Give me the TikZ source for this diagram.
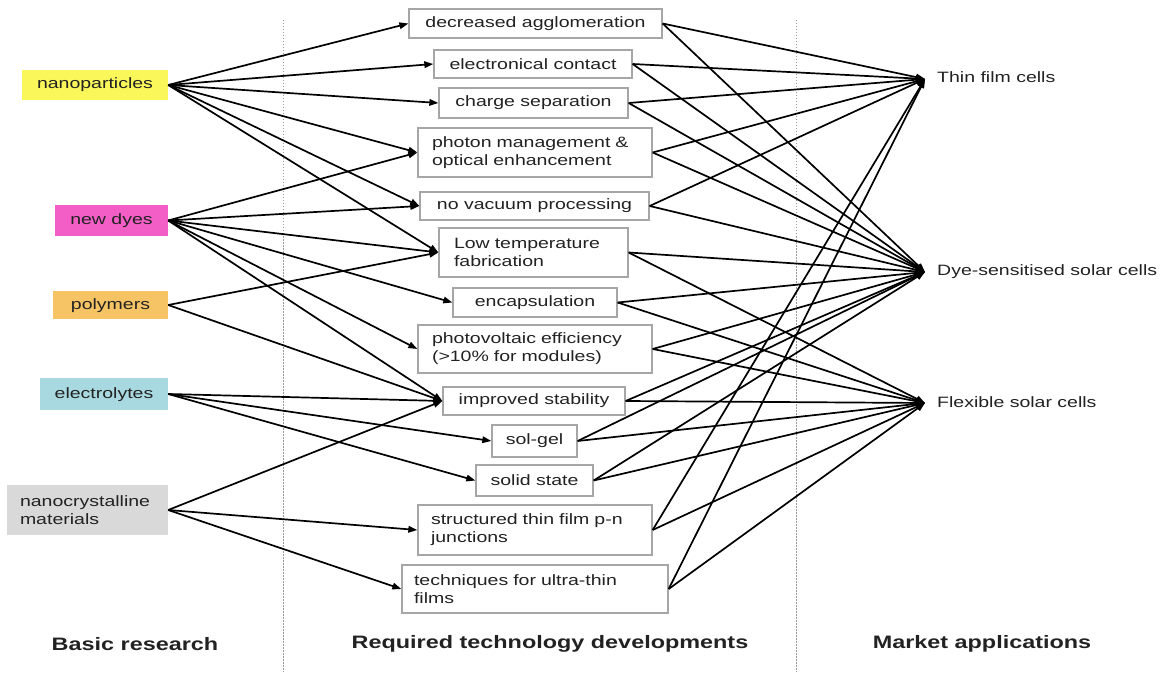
\documentclass[tikz,border=0pt]{standalone}
\usepackage{fontspec}
\setmainfont{Liberation Sans}[FakeStretch=1.3]
\usetikzlibrary{arrows.meta}
\definecolor{npyellow}{HTML}{F9F75A}
\definecolor{dyepink}{HTML}{F25EC6}
\definecolor{polyorange}{HTML}{F7C465}
\definecolor{elecblue}{HTML}{A9D9E0}
\definecolor{crystgrey}{HTML}{D9D9D9}
\definecolor{inktext}{HTML}{222222}
\begin{document}
\begin{tikzpicture}[x=1pt, y=-1pt,
  font=\fontsize{15}{18}\selectfont,
  lbox/.style={inner sep=0pt, text=inktext, text height=11pt, text depth=3pt},
  mbox/.style={draw=black!35, line width=1.3pt, fill=white, inner sep=0pt,
               text=inktext, align=left},
  rlab/.style={anchor=west, inner xsep=12pt, inner ysep=0pt, text=inktext,
               text height=11pt, text depth=3pt},
  blab/.style={inner sep=0pt, font=\fontsize{18}{21}\selectfont\bfseries, text=inktext},
  arr/.style={-{Triangle[length=9pt,width=6.5pt]}, line width=1.7pt, black},
  divider/.style={draw=black!40, line width=0.9pt, dash pattern=on 1.5pt off 1.5pt}]

\useasboundingbox[fill=white] (0,0) rectangle (1172,676);

% column dividers
\coordinate (d1t) at (283,20);  \coordinate (d1b) at (283,672);
\coordinate (d2t) at (796,20);  \coordinate (d2b) at (796,672);
\draw[divider] (d1t) -- (d1b);
\draw[divider] (d2t) -- (d2b);

% basic research
\node[lbox, fill=npyellow,   minimum width=146pt, minimum height=30pt] (np)   at (95,85)     {nanoparticles};
\node[lbox, fill=dyepink,    minimum width=113pt, minimum height=31pt] (dye)  at (111.5,220.5) {new dyes};
\node[lbox, fill=polyorange, minimum width=115pt, minimum height=28pt] (poly) at (110.5,305) {polymers};
\node[lbox, fill=elecblue,   minimum width=128pt, minimum height=32pt] (elec) at (104,394)   {electrolytes};
\node[inner sep=0pt, text=inktext, fill=crystgrey, minimum width=161pt, minimum height=50pt,
      text width=135pt, align=left] (cryst) at (87.5,510) {nanocrystalline\\materials};

% required technology developments
\node[mbox, minimum width=253pt, minimum height=29pt] (agg)   at (535.5,23.5) {decreased agglomeration};
\node[mbox, minimum width=198pt, minimum height=28pt] (cont)  at (533,64)     {electronical contact};
\node[mbox, minimum width=189pt, minimum height=30pt] (sep)   at (533.5,103)  {charge separation};
\node[mbox, minimum width=234pt, minimum height=49pt, text width=206pt] (phot) at (535,152.5) {photon management \&\\optical enhancement};
\node[mbox, minimum width=229pt, minimum height=28pt] (vac)   at (534.5,206)  {no vacuum processing};
\node[mbox, minimum width=189pt, minimum height=49pt, text width=159pt] (lowt) at (533.5,252.5) {Low temperature\\fabrication};
\node[mbox, minimum width=164pt, minimum height=29pt] (enc)   at (535,302.5)  {encapsulation};
\node[mbox, minimum width=234pt, minimum height=48pt, text width=206pt] (pv) at (535,349) {photovoltaic efficiency\\(>10\% for modules)};
\node[mbox, minimum width=182pt, minimum height=28pt] (stab)  at (534,401)    {improved stability};
\node[mbox, minimum width=85pt,  minimum height=32pt] (sol)   at (534.5,441)  {sol-gel};
\node[mbox, minimum width=117pt, minimum height=31pt] (solid) at (534.5,480.5) {solid state};
\node[mbox, minimum width=234pt, minimum height=50pt, text width=208pt] (pn) at (535,530) {structured thin film p-n\\junctions};
\node[mbox, minimum width=266pt, minimum height=48pt, text width=242pt] (ultra) at (535,589) {techniques for ultra-thin\\films};

% market applications
\node[rlab] (tf)   at (925,79)  {Thin film cells};
\node[rlab] (dssc) at (925,272) {Dye-sensitised solar cells};
\node[rlab] (flex) at (925,403) {Flexible solar cells};

% column headings
\node[blab] (h1) at (135,644) {Basic research};
\node[blab] (h2) at (550,644) {Required technology developments};
\node[blab] (h3) at (982,644) {Market applications};

% research -> technology
\foreach \s/\t in {np/agg, np/cont, np/sep, np/phot, np/vac, np/lowt,
                   dye/phot, dye/vac, dye/lowt, dye/enc, dye/pv, dye/stab,
                   poly/lowt, poly/stab,
                   elec/stab, elec/sol, elec/solid,
                   cryst/stab, cryst/pn, cryst/ultra}
  \draw[arr] (\s.east) -- (\t.west);

% technology -> applications
\foreach \s/\t in {agg/tf, agg/dssc, cont/tf, cont/dssc, sep/tf, sep/dssc,
                   phot/tf, phot/dssc, vac/tf, vac/dssc,
                   lowt/dssc, lowt/flex, enc/dssc, enc/flex, pv/dssc, pv/flex,
                   stab/dssc, stab/flex, sol/dssc, sol/flex, solid/dssc, solid/flex,
                   pn/tf, pn/flex, ultra/tf, ultra/flex}
  \draw[arr] (\s.east) -- (\t.west);
\end{tikzpicture}
\end{document}
